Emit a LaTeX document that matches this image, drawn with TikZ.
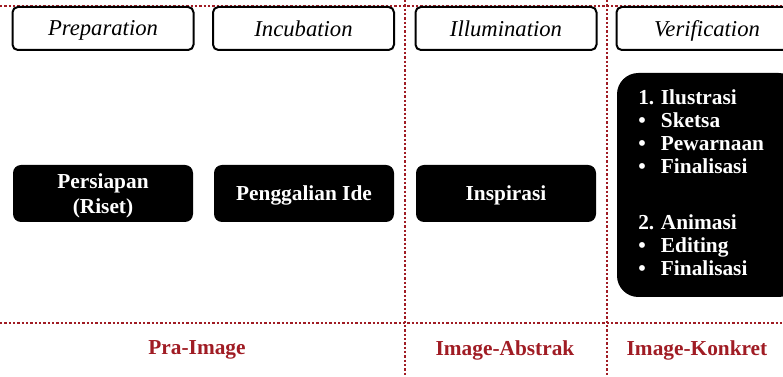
\documentclass[tikz,border=0pt]{standalone}
\usepackage{fontspec}
\setmainfont{Liberation Serif}
\definecolor{stagered}{RGB}{160,28,36}

\begin{document}
\begin{tikzpicture}[x=0.75pt, y=-0.75pt,
  header/.style={draw, line width=1.5pt, fill=white, rounded corners=4pt,
    minimum width=135.75pt, minimum height=32.25pt, inner sep=0pt, text depth=0pt,
    font=\fontsize{17}{19}\selectfont\itshape},
  phase/.style={fill=black, text=white, rounded corners=6pt, minimum width=135pt,
    minimum height=42.75pt, align=center, inner sep=0pt, text depth=0pt,
    font=\fontsize{16}{18.75}\selectfont\bfseries},
  dotline/.style={stagered, line width=1.8pt, dash pattern=on 1.8pt off 1.45pt},
  stage/.style={text=stagered, font=\fontsize{16}{18}\selectfont\bfseries}]
\useasboundingbox (0,0) rectangle (783,377);
\clip (0,0) rectangle (783,377);
% dotted guides
\draw[dotline] (0,6) -- (783,6);
\draw[dotline] (0,323) -- (783,323);
\draw[dotline] (405,0) -- (405,377);
\draw[dotline] (607,0) -- (607,377);
% headers
\node[header] (prep) at (103,28.5) {Preparation};
\node[header] (incu) at (303.5,28.5) {Incubation};
\node[header] (illu) at (506,28.5) {Illumination};
\node[header] (veri) at (707,28.5) {Verification};
% phases
\node[phase] (riset) at (103,193.5) {Persiapan\\(Riset)};
\node[phase] (ide) at (304,193.5) {Penggalian Ide};
\node[phase] (inspirasi) at (506,193.5) {Inspirasi};
\node[phase, rounded corners=16pt, minimum width=137.25pt, minimum height=168pt] (hasil) at (708.5,185) {};
\node[anchor=north west, text=white, inner sep=0pt,
  font=\fontsize{16}{17.25}\selectfont\bfseries] (daftar) at (638,88.5) {%
  \begin{tabular}{@{}p{17pt}@{}l@{}}
  1. & Ilustrasi\\
  \textbullet & Sketsa\\
  \textbullet & Pewarnaan\\
  \textbullet & Finalisasi\\[24.75pt]
  2. & Animasi\\
  \textbullet & Editing\\
  \textbullet & Finalisasi
  \end{tabular}};
% stages
\node[stage] (pra) at (197,350) {Pra-Image};
\node[stage] (abstrak) at (505,350) {Image-Abstrak};
\node[stage] (konkret) at (697,350) {Image-Konkret};
\end{tikzpicture}
\end{document}
